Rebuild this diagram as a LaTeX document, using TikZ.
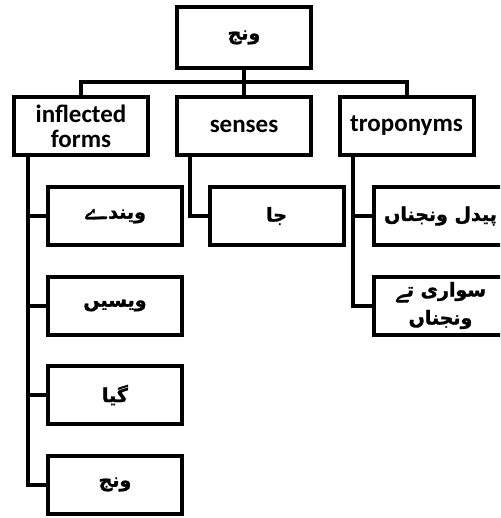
\documentclass[tikz,border=0pt]{standalone}
\usepackage{fontspec}
\setmainfont{Carlito}
\newfontfamily\urdufont[Script=Arabic, FakeBold=1.6]{DejaVu Sans}
\IfFontExistsTF{Amiri}{\newfontfamily\yefont[Script=Arabic, FakeBold=1.5, Scale=1.1]{Amiri}}{\let\yefont\urdufont}
\TeXXeTstate=1
\usetikzlibrary{positioning}
\newcommand{\urdu}[1]{{\urdufont\fontsize{19}{23}\selectfont\beginR #1\endR}}
% bari ye, alone and joined
\newcommand{\bariye}{{\yefont ے}}
\newcommand{\bariyej}{\char"200D{\yefont\char"200D ے}}

\tikzset{
    wordbox/.style={draw, line width=4pt, minimum width=134pt, minimum height=58pt,
        align=center, font=\fontsize{25}{25}\selectfont\bfseries},
    wire/.style={line width=4pt}
}

\begin{document}
\begin{tikzpicture}[x=1pt, y=-1pt]
                \useasboundingbox (0,0) rectangle (500,518);
                \clip (0,0) rectangle (500,518);

                % top word and its three groups
                \node[wordbox, minimum height=61pt] (root) at (244, 37.5) {\urdu{ونج}};
                \node[wordbox] (inflected) at (81, 126) {inflected\\forms};
                \node[wordbox] (senses) at (244, 126) {senses};
                \node[wordbox] (tropo) at (406.5, 126) {troponyms};

                \node[wordbox] (vinde) at (115, 216) {\urdu{ویند\bariye}};
                \node[wordbox, below=27.5pt of vinde] (vesin) {\urdu{ویسیں}};
                \node[wordbox, below=27.5pt of vesin] (gaya) {\urdu{گیا}};
                \node[wordbox, below=27.5pt of gaya] (vanj) {\urdu{ونج}};

                \node[wordbox] (ja) at (276.5, 216) {\urdu{جا}};

                \node[wordbox] (paidal) at (440.5, 216) {\urdu{پیدل ونجناں}};
                \node[wordbox, below=27.5pt of paidal] (savari) {\urdu{سواری ت\bariyej}\\[3pt]\urdu{ونجناں}};

                \draw[wire] (root.south) -- ++(0,12) -| (inflected.north);
                \draw[wire] (root.south) -- ++(0,12) -| (tropo.north);
                \draw[wire] (root.south) -- (senses.north);

                \draw[wire] ([xshift=16pt]inflected.south west) |- (vinde.west);
                \draw[wire] ([xshift=16pt]inflected.south west) |- (vesin.west);
                \draw[wire] ([xshift=16pt]inflected.south west) |- (gaya.west);
                \draw[wire] ([xshift=16pt]inflected.south west) |- (vanj.west);
                \draw[wire] ([xshift=15pt]senses.south west) |- (ja.west);
                \draw[wire] ([xshift=15pt]tropo.south west) |- (paidal.west);
                \draw[wire] ([xshift=15pt]tropo.south west) |- (savari.west);
            \end{tikzpicture}
\end{document}
